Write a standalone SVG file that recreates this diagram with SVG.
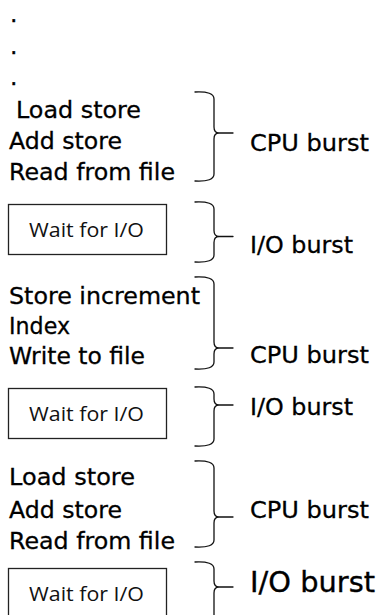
<svg xmlns="http://www.w3.org/2000/svg" width="379" height="615" viewBox="0 0 379 615">
  <style>
    .line { font-family: "DejaVu Sans", "Liberation Sans", sans-serif; font-size: 23.5px; fill: #000; stroke: #000; stroke-width: 0.3; }
    .big { font-family: "DejaVu Sans", "Liberation Sans", sans-serif; font-size: 28.5px; fill: #000; stroke: #000; stroke-width: 0.35; }
    .box { fill: #fff; stroke: #222; stroke-width: 1.3; }
    .boxtext { font-family: "Open Sans", "Liberation Sans", sans-serif; font-size: 20.5px; fill: #111; }
    .brace { fill: none; stroke: #111; stroke-width: 1.3; stroke-linejoin: round; stroke-linecap: round; }
  </style>
  <rect width="379" height="615" fill="#fff"/>

  <!-- leading ellipsis -->
  <g id="ellipsis">
    <text class="line" x="10" y="22">.</text>
    <text class="line" x="10" y="53.5">.</text>
    <text class="line" x="10" y="85">.</text>
  </g>

  <!-- first CPU burst -->
  <g id="cpu1">
    <text class="line" x="16" y="117.5" textLength="125" lengthAdjust="spacingAndGlyphs">Load store</text>
    <text class="line" x="9" y="148.5" textLength="113" lengthAdjust="spacingAndGlyphs">Add store</text>
    <text class="line" x="9" y="179.5" textLength="166" lengthAdjust="spacingAndGlyphs">Read from file</text>
  </g>

  <g id="io1">
    <rect class="box" x="8.5" y="204.5" width="158" height="50"/>
    <text class="boxtext" x="29" y="237" textLength="115" lengthAdjust="spacingAndGlyphs">Wait for I/O</text>
  </g>

  <g id="cpu2">
    <text class="line" x="9" y="303.5" textLength="191" lengthAdjust="spacingAndGlyphs">Store increment</text>
    <text class="line" x="9" y="333.5" textLength="61" lengthAdjust="spacingAndGlyphs">Index</text>
    <text class="line" x="9" y="363.5" textLength="136" lengthAdjust="spacingAndGlyphs">Write to file</text>
  </g>

  <g id="io2">
    <rect class="box" x="8.5" y="388.5" width="158" height="50"/>
    <text class="boxtext" x="29" y="421" textLength="115" lengthAdjust="spacingAndGlyphs">Wait for I/O</text>
  </g>

  <g id="cpu3">
    <text class="line" x="9" y="485" textLength="126" lengthAdjust="spacingAndGlyphs">Load store</text>
    <text class="line" x="9" y="518" textLength="113" lengthAdjust="spacingAndGlyphs">Add store</text>
    <text class="line" x="9" y="549" textLength="166" lengthAdjust="spacingAndGlyphs">Read from file</text>
  </g>

  <g id="io3">
    <rect class="box" x="8.5" y="568.5" width="158" height="60"/>
    <text class="boxtext" x="29" y="601" textLength="115" lengthAdjust="spacingAndGlyphs">Wait for I/O</text>
  </g>

  <!-- braces grouping each burst -->
  <g id="connectors">
    <path class="brace" d="M195,92 Q214,91 214,99 V127 Q214,133 219,133 Q214,133 214,139 V174 Q214,182 195,181 M219,133 H233"/>
    <path class="brace" d="M195,202 Q214,201 214,209 V230.5 Q214,236.5 219,236.5 Q214,236.5 214,242.5 V255 Q214,263 195,262 M219,236.5 H233"/>
    <path class="brace" d="M195,277 Q214,276 214,284 V342 Q214,348 219,348 Q214,348 214,354 V362 Q214,370 195,369 M219,348 H233"/>
    <path class="brace" d="M195,387 Q214,386 214,394 V399 Q214,405 219,405 Q214,405 214,411 V439 Q214,447 195,446 M219,405 H233"/>
    <path class="brace" d="M195,461 Q214,460 214,468 V511 Q214,517 219,517 Q214,517 214,523 V540 Q214,548 195,547 M219,517 H233"/>
    <path class="brace" d="M195,562 Q214,561 214,569 V581 Q214,587 219,587 Q214,587 214,593 V630 M219,587 H233"/>
  </g>

  <g id="labels">
    <text class="line" x="250" y="150.5" textLength="119" lengthAdjust="spacingAndGlyphs">CPU burst</text>
    <text class="line" x="250" y="252.5" textLength="103" lengthAdjust="spacingAndGlyphs">I/O burst</text>
    <text class="line" x="250" y="363" textLength="119" lengthAdjust="spacingAndGlyphs">CPU burst</text>
    <text class="line" x="250" y="415" textLength="103" lengthAdjust="spacingAndGlyphs">I/O burst</text>
    <text class="line" x="250" y="518" textLength="119" lengthAdjust="spacingAndGlyphs">CPU burst</text>
    <text class="big" x="250" y="592" textLength="125" lengthAdjust="spacingAndGlyphs">I/O burst</text>
  </g>
</svg>
